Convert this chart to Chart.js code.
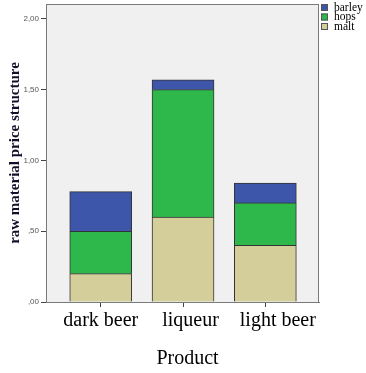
<!DOCTYPE html>
<html>
<head>
<meta charset="utf-8">
<script src="https://cdn.jsdelivr.net/npm/chart.js@4.4.1/dist/chart.umd.min.js"></script>
<style>
    body { margin: 0; background: #fff; }
    #chart { display: block; }
</style>
</head>
<body>
<canvas id="chart" width="366" height="373"></canvas>
<script>
// Chart data
const categories = ['dark beer', 'liqueur', 'light beer'];
const maltValues   = [0.20, 0.60, 0.40];
const hopsValues   = [0.30, 0.90, 0.30];
const barleyValues = [0.28, 0.07, 0.14];
const yTicks      = [0, 0.5, 1, 1.5, 2];
const yTickLabels = [',00', ',50', '1,00', '1,50', '2,00'];

// the x axis is linear so the categories sit like in the SPSS output
const toPoints = values => values.map((v, i) => ({ x: i + 1, y: v }));

// Plot background, frame and legend
const plotFrame = {
    id: 'plotFrame',
    beforeDraw(chart) {
        const { ctx, chartArea: a } = chart;
        ctx.save();
        ctx.fillStyle = '#f0f0f0';
        ctx.fillRect(a.left, a.top, a.right - a.left, a.bottom - a.top);
        ctx.restore();
    },
    afterDraw(chart) {
        const { ctx, chartArea: a } = chart;
        ctx.save();
        ctx.strokeStyle = '#7a7a7a';
        ctx.lineWidth = 1;
        ctx.strokeRect(a.left + 0.5, a.top + 0.5, a.right - a.left - 1, a.bottom - a.top);

        // legend, top item is the top of the stack
        const sets = chart.data.datasets.slice().reverse();
        ctx.font = '11.5px "Liberation Serif"';
        ctx.textBaseline = 'middle';
        sets.forEach((ds, i) => {
            const y = 4 + i * 9.5;
            ctx.fillStyle = ds.backgroundColor;
            ctx.fillRect(321, y, 7, 7);
            ctx.strokeStyle = '#555';
            ctx.strokeRect(321.5, y + 0.5, 6, 6);
            ctx.fillStyle = '#000';
            ctx.fillText(ds.label, 334, y + 3.5);
        });
        ctx.restore();
    }
};

new Chart(document.getElementById('chart'), {
    type: 'bar',
    data: {
        datasets: [
            { label: 'malt',   data: toPoints(maltValues),   backgroundColor: '#d4ce9b' },
            { label: 'hops',   data: toPoints(hopsValues),   backgroundColor: '#2eb84b' },
            { label: 'barley', data: toPoints(barleyValues), backgroundColor: '#3d56aa' }
        ]
    },
    options: {
        responsive: false,
        animation: false,
        layout: { padding: { top: 4, right: 47, bottom: 0, left: 0 } },
        datasets: {
            bar: { grouped: false, barThickness: 62, borderWidth: 1, borderColor: '#333' }
        },
        plugins: {
            legend: { display: false },
            tooltip: { enabled: false }
        },
        scales: {
            x: {
                type: 'linear',
                offset: false,
                min: 0.335,
                max: 3.652,
                border: { color: '#7a7a7a' },
                grid: { offset: false, drawOnChartArea: false, tickLength: 5, color: '#444' },
                ticks: {
                    stepSize: 1,
                    includeBounds: false,
                    padding: 2,
                    maxRotation: 0,
                    autoSkip: false,
                    color: '#000',
                    font: { family: '"Liberation Serif"', size: 20 },
                    // labels in the reference sit a bit right of their ticks
                    callback: v => {
                        const name = categories[v - 1];
                        if (name === undefined) return '';
                        return ' '.repeat([0, 3, 5][v - 1]) + name;
                    }
                },
                title: {
                    display: true,
                    text: '  Product',
                    color: '#000',
                    font: { family: '"Liberation Serif"', size: 20 },
                    padding: { top: 0, bottom: 2 }
                },
                afterFit: scale => {
                    scale.height = 71;
                    scale.paddingLeft = 0;
                    scale.paddingRight = 0;
                }
            },
            y: {
                stacked: true,
                min: 0,
                max: 2.105,
                border: { color: '#7a7a7a' },
                grid: { drawOnChartArea: false, tickLength: 5, color: '#444' },
                afterBuildTicks: scale => {
                    scale.ticks = yTicks.map(v => ({ value: v }));
                },
                ticks: {
                    padding: 2,
                    color: '#555',
                    font: { family: '"Liberation Sans"', size: 8 },
                    callback: (v, i) => yTickLabels[i]
                },
                title: {
                    display: true,
                    text: 'raw material price structure',
                    color: '#10102a',
                    font: { family: '"Liberation Serif"', size: 15, weight: 'bold' },
                    padding: { top: 6, bottom: 0 }
                },
                afterFit: scale => {
                    scale.width = 46;
                    scale.paddingTop = 0;
                    scale.paddingBottom = 0;
                }
            }
        }
    },
    plugins: [plotFrame]
});
</script>
</body>
</html>
